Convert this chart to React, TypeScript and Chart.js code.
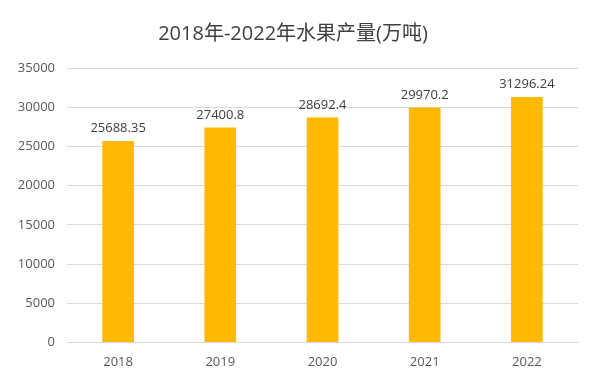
import React, { useEffect, useRef } from "react";
import { Chart, registerables } from "chart.js";

Chart.register(...registerables);

const categories = ["2018", "2019", "2020", "2021", "2022"];
const production = [25688.35, 27400.8, 28692.4, 29970.2, 31296.24];
const valueLabels = ["25688.35", "27400.8", "28692.4", "29970.2", "31296.24"];
const titleText = "2018年-2022年水果产量(万吨)";

const FONT = "'Open Sans', 'Noto Sans CJK SC', sans-serif";

const framePlugin = {
  id: "frame",
  afterDraw(chart: any) {
    const ctx = chart.ctx;
    ctx.save();
    ctx.strokeStyle = "#c4c4c4";
    ctx.lineWidth = 2;
    ctx.beginPath();
    ctx.rect(4, 4, 592, 376);
    ctx.stroke();
    ctx.restore();
  },
};

const labelPlugin = {
  id: "valueLabels",
  afterDatasetsDraw(chart: any) {
    const { ctx } = chart;
    const meta = chart.getDatasetMeta(0);
    ctx.save();
    ctx.fillStyle = "#404040";
    ctx.font = `13px ${FONT}`;
    ctx.textAlign = "center";
    ctx.textBaseline = "bottom";
    meta.data.forEach((bar: any, i: number) => {
      ctx.fillText(valueLabels[i], bar.x, bar.y - 6);
    });
    ctx.restore();
  },
};

export default function App() {
  const ref = useRef<HTMLCanvasElement>(null);
  useEffect(() => {
    if (!ref.current) return;
    const chart = new Chart(ref.current, {
      type: "bar",
      data: {
        labels: categories,
        datasets: [
          {
            data: production,
            backgroundColor: "#FFB900",
            barPercentage: 0.62,
            categoryPercentage: 0.5,
          },
        ],
      },
      options: {
        animation: false,
        responsive: false,
        devicePixelRatio: 1,
        layout: { padding: { left: 8, right: 22, top: 6, bottom: 10 } },
        plugins: {
          legend: { display: false },
          tooltip: { enabled: false },
          title: {
            display: true,
            text: titleText,
            color: "#404040",
            font: { family: FONT, size: 20, weight: "normal" },
            padding: { top: 16, bottom: 22 },
          },
        },
        scales: {
          x: {
            grid: { display: false },
            border: { color: "#d9d9d9" },
            ticks: { color: "#595959", font: { family: FONT, size: 13 }, padding: 4 },
          },
          y: {
            min: 0,
            max: 35000,
            ticks: {
              stepSize: 5000,
              color: "#595959",
              font: { family: FONT, size: 13 },
              padding: 12,
              callback: (v: any) => String(v),
            },
            grid: { color: "#d9d9d9", drawTicks: false },
            border: { display: false },
            afterFit: (s: any) => {
              s.width = 59;
            },
          },
        },
      },
      plugins: [framePlugin, labelPlugin],
    });
    return () => chart.destroy();
  }, []);
  return (
    <div style={{ margin: -8, width: 600, height: 384, background: "#ffffff" }}>
      <canvas ref={ref} width={600} height={384} style={{ display: "block" }} />
    </div>
  );
}
